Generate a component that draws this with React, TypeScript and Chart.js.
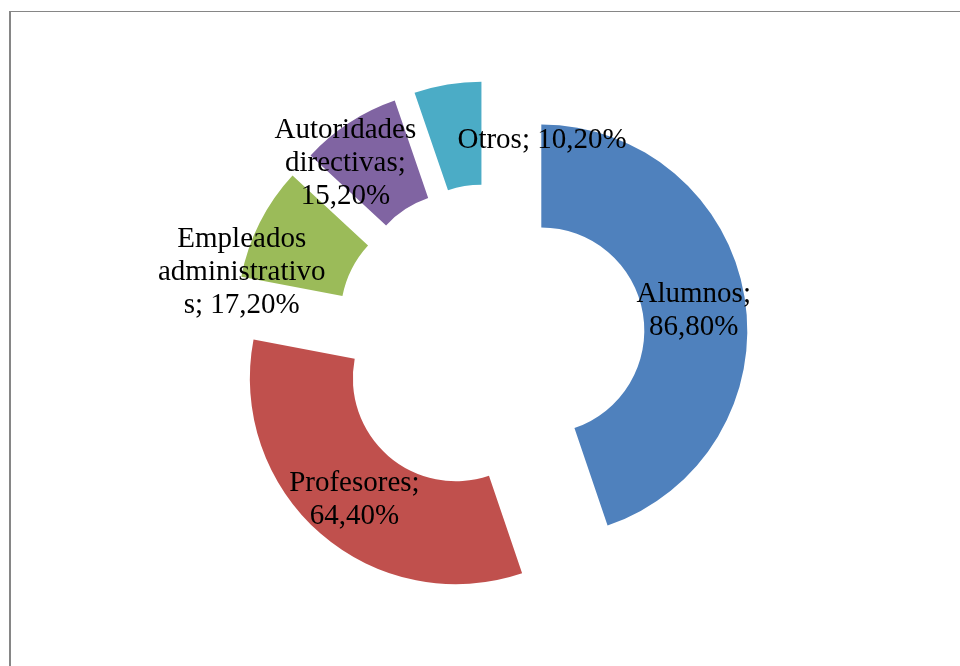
import React, { useEffect, useRef } from 'react';
import { Chart, registerables } from 'chart.js';

Chart.register(...registerables);

const categories = ['Alumnos', 'Profesores', 'Empleados administrativos', 'Autoridades directivas', 'Otros'];
const values = [86.8, 64.4, 17.2, 15.2, 10.2];
const colors = ['#4F81BD', '#C0504D', '#9BBB59', '#8064A2', '#4BACC6'];

const EXPLODE = 52;
const FONT_SIZE = 29;
const LINE_H = 33;
const WRAP_W = 174;
const FONT = `${FONT_SIZE}px "Liberation Serif", "Times New Roman", serif`;
// label nudges relative to each slice's centroid (Excel-like placement)
const LABEL_SHIFT: [number, number][] = [[0, 4], [0, 3], [-64, 25], [-32, -4], [86, 3]];

function fmt(v: number): string {
  return v.toFixed(2).replace('.', ',') + '%';
}

function wrap(ctx: CanvasRenderingContext2D, text: string, maxW: number): string[] {
  const words = text.split(' ');
  const lines: string[] = [];
  let cur = '';
  for (const w of words) {
    let word = w;
    const test = cur ? cur + ' ' + word : word;
    if (ctx.measureText(test).width <= maxW) {
      cur = test;
      continue;
    }
    if (cur) {
      lines.push(cur);
      cur = '';
    }
    while (ctx.measureText(word).width > maxW) {
      let k = word.length - 1;
      while (k > 1 && ctx.measureText(word.slice(0, k)).width > maxW) k--;
      lines.push(word.slice(0, k));
      word = word.slice(k);
    }
    cur = word;
  }
  if (cur) lines.push(cur);
  return lines;
}

const explodePlugin = {
  id: 'explode',
  afterDatasetsUpdate(chart: any) {
    const meta = chart.getDatasetMeta(0);
    meta.data.forEach((arc: any) => {
      const mid = (arc.startAngle + arc.endAngle) / 2;
      arc.x += Math.cos(mid) * EXPLODE;
      arc.y += Math.sin(mid) * EXPLODE;
    });
  },
};

const labelPlugin = {
  id: 'sliceLabels',
  afterDatasetsDraw(chart: any) {
    const ctx: CanvasRenderingContext2D = chart.ctx;
    const meta = chart.getDatasetMeta(0);
    ctx.save();
    ctx.font = FONT;
    ctx.fillStyle = '#000000';
    ctx.textAlign = 'center';
    ctx.textBaseline = 'alphabetic';
    meta.data.forEach((arc: any, i: number) => {
      const mid = (arc.startAngle + arc.endAngle) / 2;
      const r = (arc.innerRadius + arc.outerRadius) / 2;
      const cx = arc.x + Math.cos(mid) * r + LABEL_SHIFT[i][0];
      const cy = arc.y + Math.sin(mid) * r + LABEL_SHIFT[i][1];
      const text = `${categories[i]}; ${fmt(values[i])}`;
      const lines = wrap(ctx, text, WRAP_W);
      const n = lines.length;
      lines.forEach((ln, j) => {
        const y = cy + 9.5 + (j - (n - 1) / 2) * LINE_H;
        ctx.fillText(ln, cx, y);
      });
    });
    ctx.restore();
  },
};

export default function App() {
  const ref = useRef<HTMLCanvasElement | null>(null);

  useEffect(() => {
    if (!ref.current) return;
    const chart = new Chart(ref.current, {
      type: 'doughnut',
      data: {
        labels: categories,
        datasets: [
          {
            data: values,
            backgroundColor: colors,
            borderWidth: 0,
          },
        ],
      },
      options: {
        responsive: false,
        animation: false,
        events: [],
        cutout: '50%',
        layout: { padding: { top: 133, bottom: 121, left: 120, right: 100 } },
        plugins: {
          legend: { display: false },
          tooltip: { enabled: false },
        },
      },
      plugins: [explodePlugin, labelPlugin],
    });
    return () => chart.destroy();
  }, []);

  return (
    <div
      style={{
        position: 'fixed',
        left: 0,
        top: 0,
        width: 960,
        height: 666,
        background: '#ffffff',
        overflow: 'hidden',
      }}
    >
      <canvas ref={ref} width={960} height={666} style={{ position: 'absolute', left: 0, top: 0 }} />
      <div
        style={{
          position: 'absolute',
          left: 9,
          top: 11,
          width: 1000,
          height: 800,
          borderLeft: '2px solid #868686',
          borderTop: '1px solid #868686',
          pointerEvents: 'none',
        }}
      />
    </div>
  );
}
